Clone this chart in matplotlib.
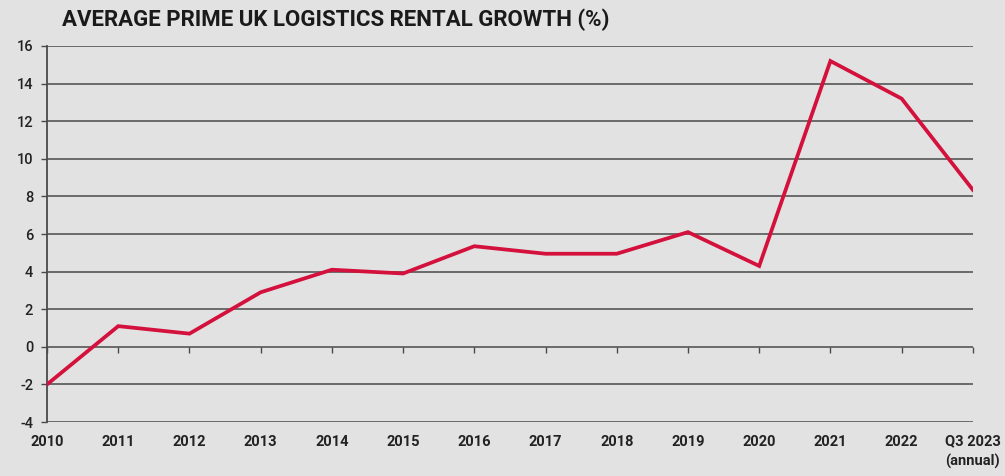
import matplotlib
matplotlib.use('Agg')
import matplotlib.pyplot as plt

# rental growth per year, %
years = ['2010', '2011', '2012', '2013', '2014', '2015', '2016', '2017',
         '2018', '2019', '2020', '2021', '2022', 'Q3 2023\n(annual)']
growth = [-2.0, 1.1, 0.7, 2.9, 4.1, 3.9, 5.35, 4.95, 4.95, 6.1, 4.3, 15.2, 13.2, 8.35]
yticks = [-4, -2, 0, 2, 4, 6, 8, 10, 12, 14, 16]

bg = '#e2e2e2'
grid = '#4a4a4a'
red = '#d3113c'

plt.rcParams['font.family'] = ['Roboto', 'DejaVu Sans']

fig = plt.figure(figsize=(10.05, 4.76), dpi=100, facecolor=bg)
ax = fig.add_axes([0.0468, 0.1134, 0.9212, 0.79])
ax.set_facecolor(bg)

x = list(range(len(years)))
for v in yticks:
    ax.axhline(v, color=grid, lw=1.1, zorder=1)
ax.plot(x, growth, color=red, lw=2.7, solid_joinstyle='miter', zorder=3)

ax.set_xlim(0, len(years) - 1)
ax.set_ylim(-4, 16)
ax.set_yticks(yticks)
ax.set_yticklabels([str(v) for v in yticks], fontsize=10.5, fontweight='medium', color='#222222')
ax.set_xticks(x)
ax.set_xticklabels(years, fontsize=10.5, fontweight='bold', color='#222222', linespacing=1.5)
ax.tick_params(axis='x', length=0, pad=9)
ax.tick_params(axis='y', length=4, width=1, color=grid, pad=6)

for side in ['top', 'right', 'bottom']:
    ax.spines[side].set_visible(False)
ax.spines['left'].set_color(grid)
ax.spines['left'].set_linewidth(1.3)

# small tick marks along the zero line
zero = ax.secondary_xaxis(0.2)
zero.set_xticks(x)
zero.set_xticklabels([])
zero.tick_params(length=4, width=1, color=grid, direction='out')
zero.spines['bottom'].set_visible(False)

fig.text(0.062, 0.958, 'AVERAGE PRIME UK LOGISTICS RENTAL GROWTH (%)',
         fontsize=16, fontweight='bold', color='#1a1a1a', va='center')

fig.savefig('out.png', dpi=100, facecolor=bg)
